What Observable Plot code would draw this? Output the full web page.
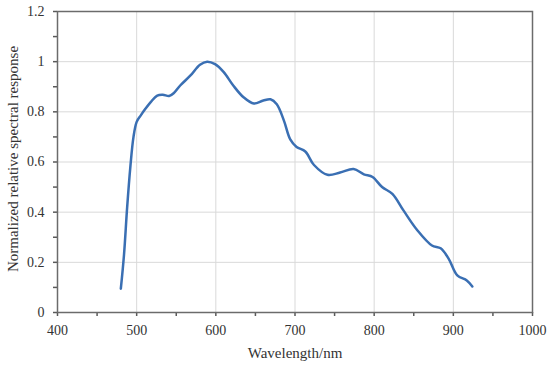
<!DOCTYPE html>
<html>
<head>
<meta charset="utf-8">
<script src="https://cdn.jsdelivr.net/npm/d3@7"></script>
<script src="https://cdn.jsdelivr.net/npm/@observablehq/plot@0.6"></script>
<style>
  html, body { margin: 0; padding: 0; background: #fff; }
  #chart svg { display: block; }
</style>
</head>
<body>
<div id="chart"></div>
<script>
const wavelength = [480, 484, 488, 492, 496, 500, 505, 511, 518, 526, 533, 541, 547, 555, 568, 580, 589, 599, 610, 622, 635, 648, 660, 669, 677, 686, 694, 702, 713, 724, 741, 757, 774, 787, 798, 810, 823, 837, 854, 873, 884, 894, 905, 917, 924];
const response   = [0.095, 0.23, 0.42, 0.58, 0.70, 0.76, 0.785, 0.812, 0.84, 0.865, 0.868, 0.863, 0.875, 0.905, 0.945, 0.988, 1.0, 0.99, 0.958, 0.905, 0.858, 0.833, 0.845, 0.85, 0.83, 0.765, 0.69, 0.66, 0.642, 0.588, 0.549, 0.558, 0.572, 0.551, 0.54, 0.50, 0.473, 0.407, 0.33, 0.267, 0.256, 0.215, 0.148, 0.128, 0.104];
const xTicks = d3.range(400, 1001, 50);
const yTicks = d3.range(0, 13).map(i => i / 10);
const xLabelTicks = [400, 500, 600, 700, 800, 900, 1000];
const yLabelTicks = [0, 0.2, 0.4, 0.6, 0.8, 1, 1.2];

const data = wavelength.map((w, i) => ({w, r: response[i]}));

const chart = Plot.plot({
  width: 550,
  height: 368,
  marginTop: 11,
  marginRight: 18,
  marginBottom: 56,
  marginLeft: 57,
  style: {fontFamily: "'Liberation Serif', 'DejaVu Serif', serif", fontSize: "14px", color: "#333"},
  x: {domain: [400, 1000]},
  y: {domain: [0, 1.2]},
  marks: [
    Plot.gridX(xLabelTicks, {stroke: "#d9d9d9", strokeOpacity: 1, strokeWidth: 1}),
    Plot.gridY(yLabelTicks, {stroke: "#d9d9d9", strokeOpacity: 1, strokeWidth: 1}),
    Plot.axisX(xTicks, {tickSize: 4, tickPadding: 9, stroke: "#595959", strokeWidth: 1.5, fill: "#333", fontSize: 14,
      tickFormat: d => d % 100 === 0 ? String(d) : "", label: null}),
    Plot.axisY(yTicks, {tickSize: 4, tickPadding: 9, stroke: "#595959", strokeWidth: 1.5, fill: "#333", fontSize: 14,
      tickFormat: d => Math.round(d * 10) % 2 === 0 ? String(+d.toFixed(1)) : "", label: null}),
    Plot.frame({stroke: "#6b6b6b", strokeWidth: 1.5}),
    Plot.line(data, {x: "w", y: "r", curve: "catmull-rom", stroke: "#3a6fb3", strokeWidth: 2.5}),
    Plot.text(["Wavelength/nm"], {frameAnchor: "bottom", dy: 45, fill: "#333", fontSize: 15}),
    Plot.text(["Normalized relative spectral response"], {frameAnchor: "left", textAnchor: "middle", dx: -44, dy: -3, rotate: -90, fill: "#333", fontSize: 15})
  ]
});
document.getElementById("chart").appendChild(chart);
</script>
</body>
</html>
